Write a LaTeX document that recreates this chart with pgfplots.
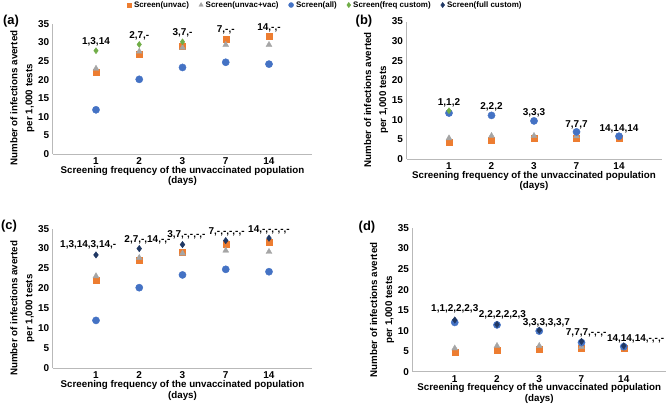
\documentclass[border=0pt]{standalone}
\usepackage{fontspec}
\setmainfont{Liberation Sans}
\usepackage{pgfplots}
\pgfplotsset{compat=1.18}

\definecolor{orng}{HTML}{ED7D31}
\definecolor{gry}{HTML}{A5A5A5}
\definecolor{blu}{HTML}{4472C4}
\definecolor{grn}{HTML}{70AD47}
\definecolor{nvy}{HTML}{203864}

\newcommand\tk{\bfseries\fontsize{10}{11}\selectfont}
\newcommand\ttl{\bfseries\fontsize{9.8}{10.5}\selectfont}

\tikzset{lbl/.style={font=\tk,inner sep=0pt}}

\pgfplotsset{
 panel/.style={
  scale only axis, anchor=south west, clip=false,
  xmin=0,xmax=6,ymin=0,ymax=35,
  axis lines=left, axis line style={-,gray!55,line width=0.6bp},
  xtick={1,...,5}, xticklabels={1,2,3,7,14},
  ytick={0,5,...,35}, major tick length=0pt,
  tick label style={font=\tk},
  /pgf/number format/assume math mode=true,
  xlabel={Screening frequency of the unvaccinated population\\(days)},
  ylabel={Number of infections averted\\per 1,000 tests},
  xlabel style={font=\ttl,align=center,inner sep=0pt,
    at={(axis description cs:0.5,0)},anchor=north,yshift=-12bp},
  ylabel style={font=\bfseries\fontsize{9.8}{15}\selectfont,align=center,
    at={(ticklabel cs:0.43)}},
  ylabel shift=-3bp,
 },
 unv/.style={only marks,mark=square*,mark size=3bp,color=orng},
 uvv/.style={only marks,mark=triangle*,mark size=3.4bp,color=gry},
 all/.style={only marks,mark=*,mark size=3.6bp,color=blu},
 frq/.style={only marks,mark=diamond*,mark size=3bp,color=grn},
 ful/.style={only marks,mark=diamond*,mark size=3.2bp,color=nvy},
}

\begin{document}
\begin{tikzpicture}
\useasboundingbox (0,0) rectangle (669bp,-405bp);

% (a)
\begin{axis}[panel, at={(52.75bp,-154bp)}, width=259.5bp, height=130bp,
 legend columns=5,
 legend style={at={(axis description cs:1.05,1.146)},anchor=center,draw=none,
   fill=none,inner sep=0pt,font=\bfseries\fontsize{8}{8.5}\selectfont,
   /tikz/every even column/.append style={column sep=8bp},
   /tikz/every odd column/.append style={column sep=0.5bp}},
 legend image code/.code={\draw[#1] plot coordinates {(0.1cm,0cm)};},
 legend entries={Screen(unvac),Screen(unvac+vac),Screen(all),Screen(freq custom),Screen(full custom)}]
 \addlegendimage{unv,mark size=2.3bp}
 \addlegendimage{uvv,mark size=2.5bp}
 \addlegendimage{all,mark size=2.5bp}
 \addlegendimage{frq,mark size=2.6bp}
 \addlegendimage{ful,mark size=2.6bp}
 \addplot[unv,forget plot] coordinates {(1,22.1) (2,27.0) (3,28.9) (4,31.0) (5,31.7)};
 \addplot[uvv,forget plot] coordinates {(1,23.0) (2,27.6) (3,28.6) (4,29.4) (5,29.4)};
 \addplot[all,forget plot] coordinates {(1,11.9) (2,20.1) (3,23.3) (4,24.7) (5,24.2)};
 \addplot[frq,forget plot] coordinates {(1,27.8) (2,29.5) (3,30.2)};
 \node[lbl] at (axis cs:1,30.3) {1,3,14};
 \node[lbl] at (axis cs:2,31.9) {2,7,-};
 \node[lbl] at (axis cs:3,32.7) {3,7,-};
 \node[lbl] at (axis cs:4,33.4) {7,-,-};
 \node[lbl] at (axis cs:5,34.0) {14,-,-};
\end{axis}

% (b)
\begin{axis}[panel, at={(406.5bp,-159bp)}, width=255bp, height=137.5bp]
 \addplot[unv] coordinates {(1,4.3) (2,4.9) (3,5.3) (4,5.3) (5,5.4)};
 \addplot[uvv] coordinates {(1,5.3) (2,5.9) (3,5.9) (4,5.8) (5,5.6)};
 \addplot[all] coordinates {(1,11.7) (2,11.1) (3,9.7) (4,6.9) (5,5.8)};
 \addplot[frq] coordinates {(1,12.3)};
 \node[lbl] at (axis cs:1,14.4) {1,1,2};
 \node[lbl] at (axis cs:2,13.4) {2,2,2};
 \node[lbl] at (axis cs:3,11.7) {3,3,3};
 \node[lbl] at (axis cs:4,8.6) {7,7,7};
 \node[lbl] at (axis cs:5,7.6) {14,14,14};
\end{axis}

% (c)
\begin{axis}[panel, at={(52.75bp,-368.3bp)}, width=259.5bp, height=139.7bp]
 \addplot[unv] coordinates {(1,22.1) (2,27.2) (3,29.1) (4,31.2) (5,31.6)};
 \addplot[uvv] coordinates {(1,23.1) (2,27.7) (3,28.8) (4,29.5) (5,29.2)};
 \addplot[all] coordinates {(1,12.0) (2,20.2) (3,23.4) (4,24.8) (5,24.2)};
 \addplot[ful] coordinates {(1,28.4) (2,30.0) (3,31.0) (4,32.0) (5,32.6)};
 \node[lbl] at (axis cs:0.82,30.9) {1,3,14,3,14,-};
 \node[lbl] at (axis cs:2.19,32.2) {2,7,-,14,-,-};
 \node[lbl] at (axis cs:3.09,33.5) {3,7,-,-,-,-};
 \node[lbl] at (axis cs:4.02,34.3) {7,-,-,-,-,-};
 \node[lbl] at (axis cs:5.0,34.8) {14,-,-,-,-,-};
\end{axis}

% (d)
\begin{axis}[panel, at={(412.5bp,-371.7bp)}, width=253.5bp, height=143.7bp]
 \addplot[unv] coordinates {(1,4.7) (2,5.3) (3,5.6) (4,5.8) (5,5.7)};
 \addplot[uvv] coordinates {(1,5.7) (2,6.3) (3,6.3) (4,6.1) (5,5.8)};
 \addplot[all] coordinates {(1,12.0) (2,11.4) (3,9.9) (4,7.1) (5,6.1)};
 \addplot[ful] coordinates {(1,12.6) (2,11.5) (3,10.1) (4,7.4) (5,6.3)};
 \node[lbl] at (axis cs:1.0,15.3) {1,1,2,2,2,3};
 \node[lbl] at (axis cs:2.13,13.8) {2,2,2,2,2,3};
 \node[lbl] at (axis cs:3.17,11.8) {3,3,3,3,3,7};
 \node[lbl] at (axis cs:4.11,9.5) {7,7,7,-,-,-};
 \node[lbl] at (axis cs:5.28,8.1) {14,14,14,-,-,-};
\end{axis}

\node[font=\bfseries\fontsize{13}{15}\selectfont] at (11bp,-21bp) {(a)};
\node[font=\bfseries\fontsize{13}{15}\selectfont] at (364bp,-21bp) {(b)};
\node[font=\bfseries\fontsize{13}{15}\selectfont] at (9bp,-226bp) {(c)};
\node[font=\bfseries\fontsize{13}{15}\selectfont] at (367bp,-227bp) {(d)};
\end{tikzpicture}
\end{document}
